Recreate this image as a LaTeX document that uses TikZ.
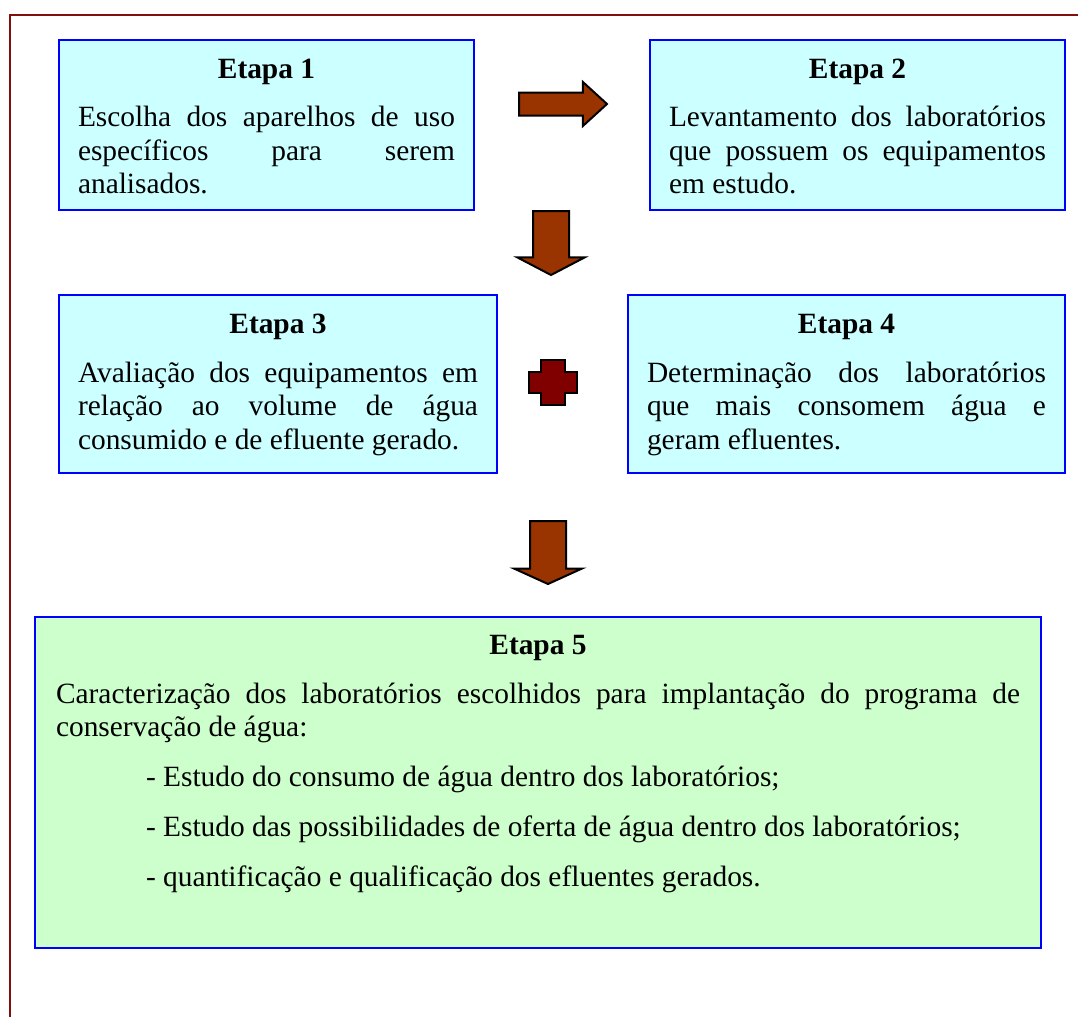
\documentclass[tikz,border=0pt]{standalone}
\usepackage{fontspec}
\setmainfont{Liberation Serif}
\usetikzlibrary{shapes.arrows}
\definecolor{etapablue}{RGB}{0,0,255}
\definecolor{etapacyan}{RGB}{204,255,255}
\definecolor{etapagreen}{RGB}{204,255,204}
\definecolor{setabrown}{RGB}{153,51,0}
\definecolor{cruzred}{RGB}{128,0,0}
\definecolor{moldurared}{RGB}{128,16,16}
\hyphenpenalty=10000
\tolerance=9999
\newcommand{\etapatitle}[1]{{\centering\bfseries #1\par}\vspace{7.75pt}}

\begin{document}
\begin{tikzpicture}[x=.5pt,y=-.5pt,
  etapa/.style={draw=etapablue,line width=1pt,inner xsep=9.5pt,inner ysep=0pt,
    align=justify,anchor=base,text height=19pt,
    font={\fontsize{14.7pt}{16.75pt}\selectfont}},
  seta/.style={single arrow,draw=black,fill=setabrown,line width=1pt,
    inner xsep=0pt,inner ysep=8.5pt,anchor=tail}]
 \useasboundingbox (0,0) rectangle (1078,1017);
 \draw[moldurared,line width=1.1pt] (10,1030)--(10,15)--(1090,15);
 \node[etapa,fill=etapacyan,text width=188.5pt,text depth=66pt]
  (etapa1) at (266.5,78)
  {\etapatitle{Etapa 1}
   Escolha dos aparelhos de uso\linebreak específicos para serem\linebreak
   analisados.};
 \node[etapa,fill=etapacyan,text width=188.5pt,text depth=66pt]
  (etapa2) at (857.5,78)
  {\etapatitle{Etapa 2}
   Levantamento dos laboratórios\linebreak que possuem os equipamentos\linebreak
   em estudo.};
 \node[etapa,fill=etapacyan,text width=200pt,text depth=70pt]
  (etapa3) at (278,333)
  {\etapatitle{Etapa 3}
   Avaliação dos equipamentos em\linebreak relação ao volume de água\linebreak
   consumido e de efluente gerado.};
 \node[etapa,fill=etapacyan,text width=199.5pt,text depth=70pt]
  (etapa4) at (846.5,333)
  {\etapatitle{Etapa 4}
   Determinação dos laboratórios\linebreak que mais consomem água e\linebreak
   geram efluentes.};
 \node[etapa,fill=etapagreen,inner xsep=10.5pt,text width=482pt,
  text height=18.5pt,text depth=147pt]
  (etapa5) at (538,654)
  {\etapatitle{Etapa 5}
   Caracterização dos laboratórios escolhidos para implantação do programa de\linebreak
   conservação de água:\par
   \vspace{8.25pt}\hspace*{45pt}- Estudo do consumo de água dentro dos laboratórios;\par
   \vspace{8.25pt}\hspace*{45pt}- Estudo das possibilidades de oferta de água dentro dos laboratórios;\par
   \vspace{8.25pt}\hspace*{45pt}- quantificação e qualificação dos efluentes gerados.};
 \node[seta,inner ysep=5.25pt,single arrow head extend=5.25pt,
  single arrow tip angle=84.8,minimum height=44pt] (seta12) at (518,104) {};
 \node[seta,rotate=-90,single arrow head extend=7.75pt,
  single arrow tip angle=124.8,minimum height=32pt] (seta23) at (551,210) {};
 \node[seta,rotate=-90,single arrow head extend=8pt,
  single arrow tip angle=131.1,minimum height=31.5pt] (seta45) at (548,520) {};
 \draw[line width=1pt,fill=cruzred]
  (541,360)--(565,360)--(565,372)--(577,372)--(577,393)--(565,393)
  --(565,405)--(541,405)--(541,393)--(529,393)--(529,372)--(541,372)--cycle;
\end{tikzpicture}
\end{document}
